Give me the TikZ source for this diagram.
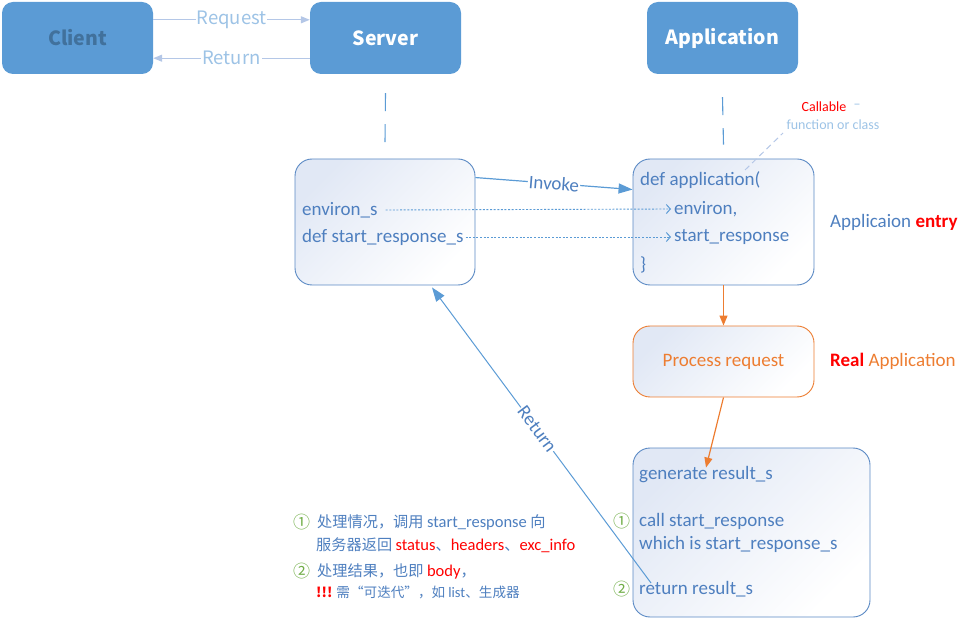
\documentclass[tikz,border=0pt]{standalone}
\usepackage{fontspec}
\setmainfont{Carlito}
\newfontfamily\cjk{Noto Sans CJK SC}
\usetikzlibrary{arrows.meta,calc}
\definecolor{hdrfill}{HTML}{5B9BD5}
\definecolor{clienttext}{HTML}{41719C}
\definecolor{lightblue}{HTML}{B4C7E7}
\definecolor{lighttext}{HTML}{9DC3E6}
\definecolor{codeblue}{HTML}{4E7FBF}
\definecolor{boxline}{HTML}{5A89C4}
\definecolor{shadeA}{HTML}{E1E8F5}
\definecolor{orng}{HTML}{ED7D31}
\definecolor{grn}{HTML}{70AD47}
\definecolor{redc}{HTML}{FF0000}
\definecolor{linkblue}{HTML}{5B9BD5}
\tikzset{
  hdr/.style={fill=hdrfill, rounded corners=11pt, minimum width=151pt, minimum height=72pt,
    font=\cjk\bfseries\fontsize{19.5}{23}\selectfont, text=white},
  codebox/.style={draw=boxline, line width=0.9pt, rounded corners=17pt,
    top color=shadeA, bottom color=white, shading angle=45},
  code/.style={font=\fontsize{19}{22}\selectfont, text=codeblue, anchor=west, inner sep=0pt},
  lightarrow/.style={draw=lightblue, line width=1.2pt, -{Triangle[width=7pt,length=9pt]}},
  lightlabel/.style={font=\cjk\fontsize{18.5}{21}\selectfont, text=lighttext, fill=white, inner sep=1pt},
  vdash/.style={draw=linkblue, line width=1.1pt, dash pattern=on 18pt off 13pt},
  dotarrow/.style={draw=linkblue, line width=0.9pt, dash pattern=on 2pt off 1.6pt,
    -{Straight Barb[length=4pt,width=9pt,line width=1pt]}},
  bluearrow/.style={draw=linkblue, line width=1.2pt, -{Triangle[width=10pt,length=14pt]}},
  orarrow/.style={draw=orng, line width=1.2pt, -{Triangle[width=8pt,length=10pt]}},
  note/.style={font=\cjk\fontsize{15.2}{18}\selectfont, text=codeblue, anchor=west, inner sep=0pt},
  circnum/.style={font=\cjk\fontsize{17}{19}\selectfont, text=grn, anchor=west, inner sep=0pt},
}
\newcommand{\lat}[1]{{\rmfamily\fontsize{16.5}{18}\selectfont #1}}
\begin{document}
\begin{tikzpicture}[x=1pt,y=-1pt]
\useasboundingbox (0,0) rectangle (959,620);
% header boxes
\node[hdr, text=clienttext] (client) at (77.5,38) {Client};
\node[hdr] (server) at (385.5,38) {Server};
\node[hdr] (app) at (722.5,38) {Application};
% client-server arrows
\draw[lightarrow] ([yshift=-18pt]client.north east) -- node[lightlabel]{Request} ([yshift=-18pt]server.north west);
\draw[lightarrow] ([yshift=16pt]server.south west) -- node[lightlabel]{Return} ([yshift=16pt]client.south east);
% boxes
\node[codebox, minimum width=180pt, minimum height=126pt] (sbox) at (385,222) {};
\node[codebox, minimum width=181pt, minimum height=126pt] (abox) at (723.5,222) {};
\node[codebox, draw=orng, minimum width=181pt, minimum height=71pt,
  font=\fontsize{19}{22}\selectfont, text=orng] (proc) at (723.5,361.5) {Process request};
\node[codebox, minimum width=237pt, minimum height=169pt] (rbox) at (751.5,532.5) {};
% vertical dashed links
\draw[vdash] (server.south) ++(0,19) coordinate (sd1) -- ($(sbox.north)+(0,-16)$) coordinate (sd2);
\draw[vdash] (app.south) ++(0,23) coordinate (ad1) -- ($(abox.north)+(0,-14)$) coordinate (ad2);
% server box text
\node[code] (envs) at (302,210) {environ\_s};
\node[code] (srs) at (302,237) {def start\_response\_s};
% app box text
\node[code] (defapp) at (640,180) {def application(};
\node[code] (env) at (674,209) {environ,};
\node[code] (sr) at (674,237) {start\_response};
\node[code] (brace) at (640,265) {\}};
% dotted arrows
\draw[dotarrow] ([xshift=8pt]envs.east) -- ([xshift=-3pt]env.west);
\draw[dotarrow] ([xshift=2pt]srs.east) -- ([xshift=-3pt]sr.west);
% invoke
\draw[bluearrow] ([yshift=-19pt]sbox.north east) -- node[sloped, fill=white, inner sep=1pt,
  font=\fontsize{19}{22}\selectfont, text=codeblue]{Invoke} ([yshift=-31pt]abox.north west);
% callable annotation
\node[font=\fontsize{14}{16}\selectfont, text=redc] (callable) at (824,107) {Callable};
\node[font=\fontsize{14}{16}\selectfont, text=lighttext] (dashmark) at (857,106) {--};
\node[font=\fontsize{14}{16}\selectfont, text=lighttext] (foc) at (833,125) {function or class};
\coordinate (cl1) at (745,170);
\coordinate (cl2) at (783,133);
\draw[draw=lightblue, line width=1pt, dash pattern=on 6pt off 4pt] (cl1) -- (cl2);
% side labels
\node[font=\fontsize{19}{22}\selectfont, text=codeblue, anchor=west, inner sep=0pt] (entry) at (830,222)
  {Applicaion \textcolor{redc}{\bfseries entry}};
\node[font=\fontsize{19}{22}\selectfont, text=orng, anchor=west, inner sep=0pt] (real) at (830,361)
  {\textcolor{redc}{\bfseries Real} Application};
% result box text
\node[code] (gen) at (639,475) {generate result\_s};
\node[code] (call) at (639,521) {call start\_response};
\node[code] (which) at (639,544) {which is start\_response\_s};
\node[code] (ret) at (639,589) {return result\_s};
\node[circnum] (c1) at (613,521) {①};
\node[circnum] (c2) at (613,589) {②};
% orange arrows
\draw[orarrow] (abox.south) -- (proc.north);
\draw[orarrow] (proc.south) -- ([yshift=-1pt]gen.north);
% return arrow
\coordinate (retstart) at (651,583);
\draw[bluearrow, line width=1pt] (retstart) -- node[sloped, fill=white, inner sep=1pt,
  font=\fontsize{19}{22}\selectfont, text=codeblue, pos=0.52]{Return} ([xshift=47pt,yshift=-2pt]sbox.south);
% notes
\node[circnum] (n1) at (293,522) {①};
\node[note] (t1) at (317,522) {处理情况，调用 \lat{start\_response} 向};
\node[note] (t2) at (316,545) {服务器返回 \textcolor{redc}{\lat{status}}、\textcolor{redc}{\lat{headers}}、\textcolor{redc}{\lat{exc\_info}}};
\node[circnum] (n2) at (293,571) {②};
\node[note] (t3) at (317,571) {处理结果，也即 \textcolor{redc}{\lat{body}}，};
\node[note, font=\cjk\fontsize{13.6}{16}\selectfont] (t4) at (316,592) {{\color{redc}\bfseries !!!} 需“可迭代”，如 {\rmfamily\fontsize{14.5}{16}\selectfont list}、生成器};
\end{tikzpicture}
\end{document}
